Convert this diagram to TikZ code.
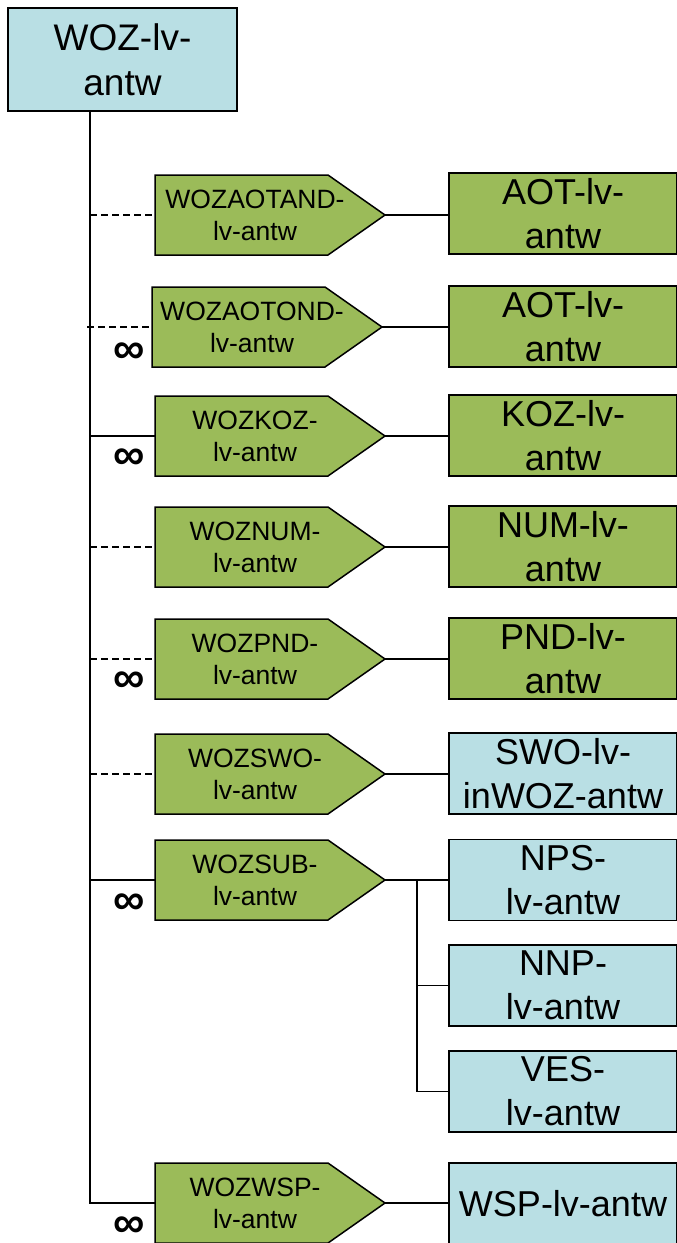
\documentclass[tikz,border=0pt]{standalone}
\usepackage{fontspec}
\setmainfont{Liberation Sans}
\usetikzlibrary{backgrounds}
\definecolor{boxblue}{RGB}{185,223,228}
\definecolor{boxgreen}{RGB}{155,187,89}
\begin{document}
\begin{tikzpicture}[x=1pt,y=-1pt,
 topbox/.style={draw, line width=1.8pt, fill=boxblue, minimum width=229, minimum height=103, inner sep=0, align=center, font=\fontsize{37}{45}\selectfont},
 rbox/.style={draw, line width=1.8pt, minimum width=228, minimum height=81, inner sep=0, align=center, font=\fontsize{36}{44}\selectfont},
 gbox/.style={rbox, fill=boxgreen},
 bbox/.style={rbox, fill=boxblue},
 pent/.style={minimum width=230, minimum height=80, inner sep=0, outer sep=0},
 ptext/.style={align=center, font=\fontsize{26.5}{32}\selectfont, xshift=-15, inner sep=0},
 pentshape/.style={fill=boxgreen, draw, line width=1.5pt, line join=miter},
 link/.style={line width=1.5pt},
 opt/.style={link, dash pattern=on 7pt off 4pt},
 card/.style={font=\bfseries\fontsize{44}{44}\selectfont, inner sep=0}
]
\useasboundingbox (0,0) rectangle (677,1243);

% top entity
\node[topbox] (top) at (122.5,59.5) {WOZ-lv-\\antw};

% relation pentagons
\node[pent, label={[ptext]center:{WOZAOTAND-\\lv-antw}}] (p1) at (270,215) {};
\node[pent, label={[ptext]center:{WOZAOTOND-\\lv-antw}}] (p2) at (267,327) {};
\node[pent, label={[ptext]center:{WOZKOZ-\\lv-antw}}] (p3) at (270,436) {};
\node[pent, label={[ptext]center:{WOZNUM-\\lv-antw}}] (p4) at (270,547) {};
\node[pent, label={[ptext]center:{WOZPND-\\lv-antw}}] (p5) at (270,659) {};
\node[pent, label={[ptext]center:{WOZSWO-\\lv-antw}}] (p6) at (270,774) {};
\node[pent, label={[ptext]center:{WOZSUB-\\lv-antw}}] (p7) at (270,880) {};
\node[pent, label={[ptext]center:{WOZWSP-\\lv-antw}}] (p8) at (270,1203) {};

\begin{pgfonlayer}{background}
\foreach \p in {p1,p2,p3,p4,p5,p6,p7,p8}
  \path[pentshape] (\p.north west) -- ([xshift=-57]\p.north east) -- (\p.east)
    -- ([xshift=-57]\p.south east) -- (\p.south west) -- cycle;
\end{pgfonlayer}

% right entities
\node[gbox] (r1) at (563,213.5) {AOT-lv-\\antw};
\node[gbox] (r2) at (563,326.5) {AOT-lv-\\antw};
\node[gbox] (r3) at (563,435.5) {KOZ-lv-\\antw};
\node[gbox] (r4) at (563,546.5) {NUM-lv-\\antw};
\node[gbox] (r5) at (563,658.5) {PND-lv-\\antw};
\node[bbox] (r6) at (563,773.5) {SWO-lv-\\inWOZ-antw};
\node[bbox] (r7) at (563,880) {NPS-\\lv-antw};
\node[bbox] (r8) at (563,985.5) {NNP-\\lv-antw};
\node[bbox] (r9) at (563,1091.5) {VES-\\lv-antw};
\node[bbox] (r10) at (563,1203.5) {WSP-lv-antw};

% spine
\coordinate (spx) at (90,0);
\draw[link] (top.south -| spx) -- (p8.west -| spx) -- (p8.west);

% spine to relations
\draw[opt] (p1.west -| spx) -- (p1.west);
\draw[opt] ([xshift=-3]p2.west -| spx) -- (p2.west);
\draw[link] (p3.west -| spx) -- (p3.west);
\draw[opt] (p4.west -| spx) -- (p4.west);
\draw[opt] (p5.west -| spx) -- (p5.west);
\draw[opt] (p6.west -| spx) -- (p6.west);
\draw[link] (p7.west -| spx) -- (p7.west);

% relations to entities
\draw[link] (p1.east) -- (r1.west |- p1.east);
\draw[link] (p2.east) -- (r2.west |- p2.east);
\draw[link] (p3.east) -- (r3.west |- p3.east);
\draw[link] (p4.east) -- (r4.west |- p4.east);
\draw[link] (p5.east) -- (r5.west |- p5.east);
\draw[link] (p6.east) -- (r6.west |- p6.east);
\draw[link] (p7.east) -- (r7.west);
\draw[link] (p8.east) -- (r10.west |- p8.east);
\coordinate (br) at (417,880);
\draw[link] (br) -- (br |- r9.west) -- (r9.west);
\draw[link] (br |- r8.west) -- (r8.west);

% cardinalities
\node[card] (c2) at (129,353) {∞};
\node[card] (c3) at (129,459) {∞};
\node[card] (c5) at (129,682) {∞};
\node[card] (c7) at (129,904) {∞};
\node[card] (c8) at (129,1227) {∞};
\end{tikzpicture}
\end{document}
